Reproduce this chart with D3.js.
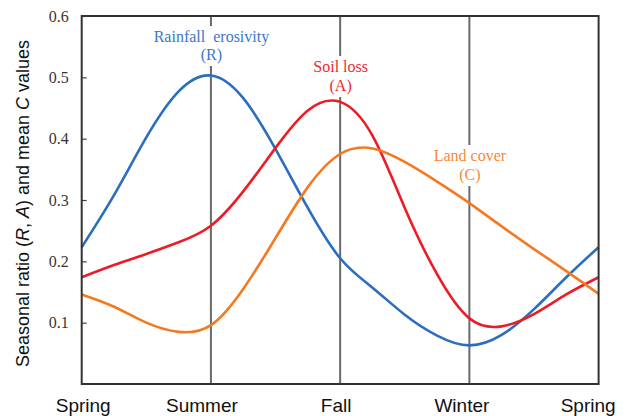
<!DOCTYPE html>
<html><head><meta charset="utf-8">
<script src="https://cdn.jsdelivr.net/npm/d3@7"></script>
<style>html,body{margin:0;padding:0;background:#fff;}svg{display:block;}</style>
</head><body>
<script>
// ---- data ----
const seasons = ["Spring", "Summer", "Fall", "Winter", "Spring"];
const seasonPos = [0, 1, 2, 3, 4];
const samplePos = [0, 0.25, 0.5, 0.75, 1, 1.25, 1.5, 1.75, 2, 2.25, 2.5, 2.75, 3, 3.25, 3.5, 3.75, 4];
const rainfallR = [0.223, 0.308, 0.402, 0.477, 0.503, 0.466, 0.383, 0.287, 0.205, 0.157, 0.113, 0.079, 0.063, 0.080, 0.122, 0.174, 0.223];
const soilLossA = [0.174, 0.194, 0.212, 0.231, 0.258, 0.314, 0.385, 0.446, 0.460, 0.405, 0.287, 0.179, 0.107, 0.094, 0.114, 0.146, 0.174];
const landCoverC = [0.146, 0.126, 0.100, 0.085, 0.096, 0.155, 0.238, 0.321, 0.375, 0.384, 0.362, 0.330, 0.295, 0.257, 0.220, 0.184, 0.147];
const yTicks = [0.1, 0.2, 0.3, 0.4, 0.5, 0.6];
const yTickLabels = ["0.1", "0.2", "0.3", "0.4", "0.5", "0.6"];
const seriesNames = [["Rainfall  erosivity", "(R)"], ["Soil loss", "(A)"], ["Land cover", "(C)"]];
const seriesAt = [1, 2, 3];

// ---- layout / style ----
const W = 627, H = 416;
const colors = ["#2a6ebd", "#ec1c26", "#f47a22"];
const textColors = ["#3b78c6", "#ec2a30", "#f5893a"];
const labelDx = [1, -9.5, -4.5, -8, -11];
const labelBaselines = [[42, 60], [72, 91], [161, 180]];

const svg = d3.select("body").append("svg").attr("width", W).attr("height", H);
svg.append("rect").attr("width", W).attr("height", H).attr("fill", "#fff");

const x = d3.scaleLinear().domain([0, 4]).range([81.7, 598.6]);
const y = d3.scaleLinear().domain([0, 0.6]).range([384, 16]);

// vertical season lines
svg.append("g").selectAll("line").data(seasonPos.slice(1, 4)).join("line")
  .attr("x1", d => x(d)).attr("x2", d => x(d))
  .attr("y1", y(0.6)).attr("y2", y(0))
  .attr("stroke", "#6a6a6a").attr("stroke-width", 2);

// label boxes (white) + text
const lab = svg.append("g");
seriesNames.forEach((nm, i) => {
  const cx = x(seriesAt[i]);
  const b = labelBaselines[i];
  lab.append("rect").attr("x", cx - 12).attr("y", b[0] - 16)
    .attr("width", 24).attr("height", b[1] - b[0] + 22).attr("fill", "#fff");
  nm.forEach((t, j) => {
    lab.append("text").attr("x", cx + 0.5).attr("y", b[j])
      .attr("text-anchor", "middle")
      .attr("font-family", "Liberation Serif, Times New Roman, serif")
      .attr("font-size", 16)
      .attr("fill", textColors[i])
      .style("white-space", "pre")
      .text(t);
  });
});

// curves
const line = d3.line().x((d, i) => x(samplePos[i])).y(d => y(d)).curve(d3.curveNatural);
[rainfallR, soilLossA, landCoverC].forEach((s, i) => {
  svg.append("path").attr("d", line(s)).attr("fill", "none")
    .attr("stroke", colors[i]).attr("stroke-width", 2.6);
});

// y axis ticks & labels
const yAxis = d3.axisLeft(y).tickValues(yTicks).tickSize(-5).tickPadding(13)
  .tickFormat((d, i) => yTickLabels[i]);
const ya = svg.append("g").attr("transform", `translate(${x(0)},0)`).call(yAxis);
ya.select(".domain").remove();
ya.selectAll(".tick line").attr("stroke", "#444").attr("stroke-width", 1.2);
ya.selectAll(".tick text").attr("font-family", "Liberation Serif, Times New Roman, serif")
  .attr("font-size", 16).attr("fill", "#3a3530");

// x axis labels
const xAxis = d3.axisBottom(x).tickValues(seasonPos).tickSize(0).tickPadding(0)
  .tickFormat((d, i) => seasons[i]);
const xa = svg.append("g").call(xAxis);
xa.select(".domain").remove();
xa.selectAll(".tick text").attr("font-family", "Liberation Sans, Arial, sans-serif")
  .attr("font-size", 19).attr("fill", "#111")
  .attr("dy", null).attr("y", 412)
  .attr("dx", (d, i) => labelDx[i]);

// frame
svg.append("rect").attr("x", x(0)).attr("y", y(0.6))
  .attr("width", x(4) - x(0)).attr("height", y(0) - y(0.6))
  .attr("fill", "none").attr("stroke", "#333").attr("stroke-width", 2);

// y title
const yt = svg.append("text")
  .attr("transform", `translate(29,${(25 + 382) / 2}) rotate(-90)`)
  .attr("text-anchor", "middle")
  .attr("font-family", "Liberation Sans, Arial, sans-serif")
  .attr("font-size", 18).attr("fill", "#111");
yt.append("tspan").text("Seasonal ratio (");
yt.append("tspan").attr("font-style", "italic").text("R");
yt.append("tspan").text(", ");
yt.append("tspan").attr("font-style", "italic").text("A");
yt.append("tspan").text(") and mean ");
yt.append("tspan").attr("font-style", "italic").text("C");
yt.append("tspan").text(" values");
</script>
</body></html>
